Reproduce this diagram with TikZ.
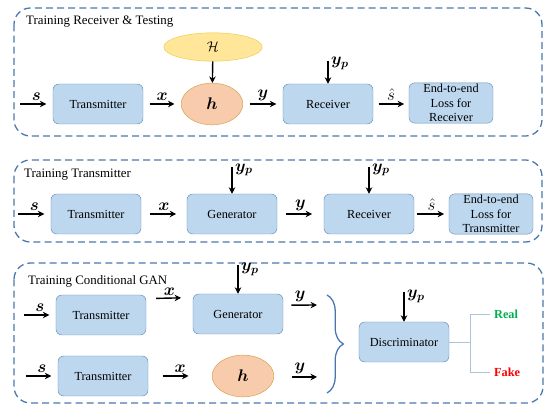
\documentclass[tikz,border=0pt]{standalone}
\usepackage{fontspec}
\setmainfont{Liberation Serif}
\usepackage{amsmath,bm}
\usetikzlibrary{arrows.meta,shapes.geometric,decorations.pathreplacing}

\definecolor{boxfill}{HTML}{BDD7EE}
\definecolor{boxline}{HTML}{6B93BD}
\definecolor{panelline}{HTML}{4A78AC}
\definecolor{hfill}{HTML}{F8CBAD}
\definecolor{hline}{HTML}{D6A040}
\definecolor{Hfill}{HTML}{FFE699}
\definecolor{Hline}{HTML}{F0C848}
\definecolor{realgreen}{HTML}{00B050}
\definecolor{fakered}{HTML}{FF0000}
\definecolor{forkline}{HTML}{A9C4DC}

\begin{document}
\begin{tikzpicture}[x=0.03cm, y=-0.03cm,
        blk/.style={draw=boxline, fill=boxfill, rounded corners=5pt, minimum width=2.7cm,
          minimum height=1.2cm, align=center, inner sep=1pt, font=\fontsize{10.5}{12.5}\selectfont},
        chan/.style={ellipse, draw=hline, fill=hfill, minimum width=1.85cm, minimum height=1.25cm,
          inner sep=0pt, font=\Large},
        hset/.style={ellipse, draw=Hline, fill=Hfill, minimum width=2.95cm, minimum height=0.85cm,
          inner sep=0pt, font=\large},
        panel/.style={draw=panelline, line width=1.1pt, dash pattern=on 6pt off 3.5pt, rounded corners=14pt},
        arr/.style={-{Stealth[length=5.5pt,width=5.5pt]}, line width=1.2pt, shorten <=5.5pt, shorten >=5.5pt},
        lbl/.style={font=\Large, inner sep=2pt},
        ttl/.style={anchor=west, font=\fontsize{11}{13}\selectfont}
      ]
      \useasboundingbox (0,0) rectangle (546,405);

      % training receiver & testing
      \draw[panel] (14,8) rectangle (542,136);
      \node[ttl] at (22,22) (t1) {Training Receiver \& Testing};
      \node[blk] at (98,104) (tx1) {Transmitter};
      \node[hset] at (213,47) (hs1) {$\mathcal{H}$};
      \node[chan] at (212,104) (ch1) {$\bm{h}$};
      \node[blk] at (328,104) (rx1) {Receiver};
      \node[blk, minimum width=2.52cm] at (451,103) (loss1) {End-to-end\\Loss for\\Receiver};
      \coordinate (s1) at (20,104);
      \coordinate (yp1) at (328,61);
      % edges
      \draw[arr, shorten <=0pt] (s1) -- (tx1) node[lbl, midway, above] {$\bm{s}$};
      \draw[arr] (tx1) -- (ch1) node[lbl, midway, above] {$\bm{x}$};
      \draw[arr] (ch1) -- (rx1) node[lbl, midway, above] {$\bm{y}$};
      \draw[arr, shorten <=4.5pt, shorten >=4pt] (rx1.east) -- (rx1.east -| loss1.west)
        node[lbl, midway, above] {$\hat{s}$};
      \draw[arr, shorten <=0pt, shorten >=0pt] (hs1) -- (ch1);
      \draw[arr, shorten <=0pt, shorten >=0pt] (yp1) -- (rx1) node[lbl, pos=0.1, right] {$\bm{y_p}$};

      % training transmitter
      \draw[panel] (14,160) rectangle (542,242);
      \node[ttl] at (20,175) (t2) {Training Transmitter};
      \node[blk] at (96,214) (tx2) {Transmitter};
      \node[blk] at (232,214) (gen2) {Generator};
      \node[blk] at (369,214) (rx2) {Receiver};
      \node[blk, minimum width=2.52cm] at (491,214) (loss2) {End-to-end\\Loss for\\Transmitter};
      \coordinate (s2) at (18,214);
      \coordinate (yp2) at (232,167);
      \coordinate (yp3) at (369,167);
      % edges
      \draw[arr, shorten <=0pt] (s2) -- (tx2) node[lbl, midway, above] {$\bm{s}$};
      \draw[arr, shorten <=7.5pt, shorten >=9pt] (tx2) -- (gen2) node[lbl, midway, above] {$\bm{x}$};
      \draw[arr, shorten <=7.5pt, shorten >=10pt] (gen2) -- (rx2) node[lbl, midway, above] {$\bm{y}$};
      \draw[arr, shorten <=2.5pt, shorten >=4pt] (rx2.east) -- (rx2.east -| loss2.west)
        node[lbl, midway, above] {$\hat{s}$};
      \draw[arr, shorten <=0pt, shorten >=0pt] (yp2) -- (gen2) node[lbl, pos=0.1, right] {$\bm{y_p}$};
      \draw[arr, shorten <=0pt, shorten >=0pt] (yp3) -- (rx2) node[lbl, pos=0.1, right] {$\bm{y_p}$};

      % training conditional gan
      \draw[panel] (14,263) rectangle (543,403);
      \node[ttl] at (24,281) (t3) {Training Conditional GAN};
      \node[blk] at (101,315) (tx3) {Transmitter};
      \node[blk] at (238,314) (gen3) {Generator};
      \node[blk] at (103,376) (tx4) {Transmitter};
      \node[chan] at (243,376) (ch3) {$\bm{h}$};
      \node[blk] at (404,342) (disc) {Discriminator};
      \node[anchor=west, text=realgreen, font=\fontsize{10.5}{12}\selectfont\bfseries] at (490,314) (real) {Real};
      \node[anchor=west, text=fakered, font=\fontsize{10.5}{12}\selectfont\bfseries] at (490,372) (fake) {Fake};
      \coordinate (s3) at (24,315);
      \coordinate (s4) at (26,376);
      \coordinate (yp4) at (238,265);
      \coordinate (yp5) at (404,292);
      \coordinate (y3) at (317,305);
      \coordinate (y4) at (317,377);
      \coordinate (bt) at (327,295);
      \coordinate (bb) at (327,393);
      \coordinate (fork) at (470,342);
      % edges
      \draw[arr, shorten <=0pt] (s3) -- (tx3) node[lbl, midway, above] {$\bm{s}$};
      \draw[arr, shorten <=0pt] (s4) -- (tx4) node[lbl, midway, above] {$\bm{s}$};
      \draw[arr, shorten <=8.5pt, shorten >=10pt] ([yshift=14pt]tx3.east) -- ([yshift=14pt]gen3.west)
        node[lbl, midway, above] {$\bm{x}$};
      \draw[arr, shorten <=12.5pt, shorten >=20pt] (tx4) -- (ch3) node[lbl, midway, above] {$\bm{x}$};
      \draw[arr, shorten <=7pt, shorten >=0pt] ([yshift=7.5pt]gen3.east) -- (y3)
        node[lbl, midway, above] {$\bm{y}$};
      \draw[arr, shorten <=15pt, shorten >=0pt] (ch3.east |- y4) -- (y4) node[lbl, pos=0.6, above] {$\bm{y}$};
      \draw[arr, shorten <=0pt, shorten >=0pt] (yp4) -- (gen3) node[lbl, pos=0.15, right] {$\bm{y_p}$};
      \draw[arr, shorten <=0pt, shorten >=0pt] (yp5) -- (disc) node[lbl, pos=0.15, right] {$\bm{y_p}$};
      \draw[panelline, line width=1.1pt, decorate, decoration={brace, amplitude=14pt}] (bt) -- (bb);
      % fork
      \draw[forkline, line width=0.8pt] (disc) -- (fork);
      \draw[forkline, line width=0.8pt] (real.west) -- (fork |- real.west) -- (fork |- fake.west) -- (fake.west);
  \end{tikzpicture}
\end{document}
